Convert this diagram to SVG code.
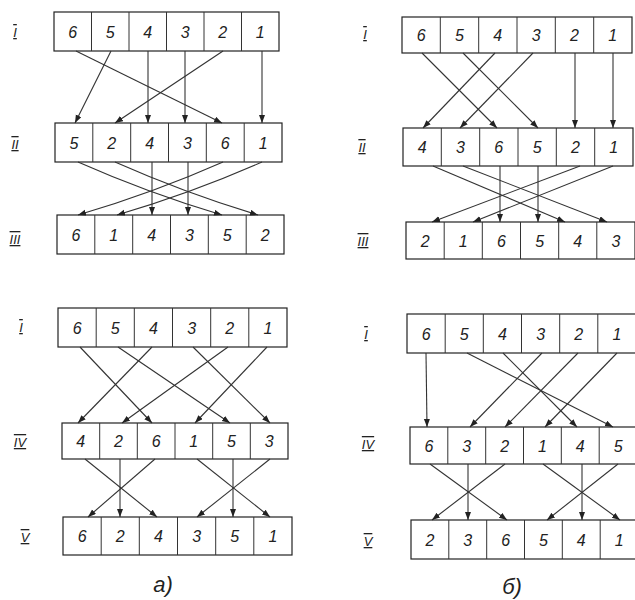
<svg xmlns="http://www.w3.org/2000/svg" width="635" height="600" viewBox="0 0 635 600">
<defs>
<style>
.box{fill:#fff;stroke:#222;stroke-width:1.2}
.div{fill:none;stroke:#333;stroke-width:1}
.d{font-family:"Liberation Sans",Arial,sans-serif;font-style:italic;font-size:16px;fill:#222;text-anchor:middle}
.lbl{font-family:"Liberation Sans",Arial,sans-serif;font-style:italic;font-size:13px;fill:#222;text-anchor:middle;text-decoration:overline underline}
.cap{font-family:"Liberation Sans",Arial,sans-serif;font-style:italic;font-size:22px;fill:#222;text-anchor:middle}
.c{fill:none;stroke:#333;stroke-width:1.1;marker-end:url(#ah)}
</style>
<marker id="ah" markerUnits="userSpaceOnUse" markerWidth="9" markerHeight="7" refX="8" refY="3" orient="auto">
<path d="M0,0 L8,3 L0,6 z" fill="#222"/>
</marker>
</defs>
<rect width="635" height="600" fill="#fff"/>

<g id="labels">
<text class="lbl" x="15" y="37">I</text>
<text class="lbl" x="15" y="149">II</text>
<text class="lbl" x="15" y="244">III</text>
<text class="lbl" x="365" y="39">I</text>
<text class="lbl" x="362" y="152">II</text>
<text class="lbl" x="363" y="246">III</text>
<text class="lbl" x="21" y="332">I</text>
<text class="lbl" x="20" y="447">IV</text>
<text class="lbl" x="25" y="542">V</text>
<text class="lbl" x="366" y="339">I</text>
<text class="lbl" x="368" y="449">IV</text>
<text class="lbl" x="368" y="546">V</text>
<text class="cap" x="163" y="592">а)</text>
<text class="cap" x="512" y="594">б)</text>
</g>

<g id="a-I">
<rect class="box" x="54" y="12" width="225" height="39"/>
<path class="div" d="M91.5,12v39M129,12v39M166.5,12v39M204,12v39M241.5,12v39"/>
<text class="d" x="72.8" y="37.5">6</text><text class="d" x="110.3" y="37.5">5</text><text class="d" x="147.8" y="37.5">4</text><text class="d" x="185.3" y="37.5">3</text><text class="d" x="222.8" y="37.5">2</text><text class="d" x="260.3" y="37.5">1</text>
</g>
<g id="a-II">
<rect class="box" x="55" y="123" width="227" height="39"/>
<path class="div" d="M92.8,123v39M130.7,123v39M168.5,123v39M206.3,123v39M244.2,123v39"/>
<text class="d" x="73.9" y="148.5">5</text><text class="d" x="111.8" y="148.5">2</text><text class="d" x="149.6" y="148.5">4</text><text class="d" x="187.4" y="148.5">3</text><text class="d" x="225.3" y="148.5">6</text><text class="d" x="263.1" y="148.5">1</text>
</g>
<g id="a-III">
<rect class="box" x="57" y="215" width="227" height="39"/>
<path class="div" d="M94.8,215v39M132.7,215v39M170.5,215v39M208.3,215v39M246.2,215v39"/>
<text class="d" x="75.9" y="240.5">6</text><text class="d" x="113.8" y="240.5">1</text><text class="d" x="151.6" y="240.5">4</text><text class="d" x="189.4" y="240.5">3</text><text class="d" x="227.3" y="240.5">5</text><text class="d" x="265.1" y="240.5">2</text>
</g>

<g id="b-I">
<rect class="box" x="402" y="17" width="230" height="36"/>
<path class="div" d="M440.3,17v36M478.7,17v36M517,17v36M555.3,17v36M593.7,17v36"/>
<text class="d" x="421.2" y="41">6</text><text class="d" x="459.5" y="41">5</text><text class="d" x="497.8" y="41">4</text><text class="d" x="536.2" y="41">3</text><text class="d" x="574.5" y="41">2</text><text class="d" x="612.8" y="41">1</text>
</g>
<g id="b-II">
<rect class="box" x="403" y="128" width="230" height="38"/>
<path class="div" d="M441.3,128v38M479.7,128v38M518,128v38M556.3,128v38M594.7,128v38"/>
<text class="d" x="422.2" y="153">4</text><text class="d" x="460.5" y="153">3</text><text class="d" x="498.8" y="153">6</text><text class="d" x="537.2" y="153">5</text><text class="d" x="575.5" y="153">2</text><text class="d" x="613.8" y="153">1</text>
</g>
<g id="b-III">
<rect class="box" x="406" y="222" width="229" height="37"/>
<path class="div" d="M444.2,222v37M482.3,222v37M520.5,222v37M558.7,222v37M596.8,222v37"/>
<text class="d" x="425.1" y="246.5">2</text><text class="d" x="463.3" y="246.5">1</text><text class="d" x="501.4" y="246.5">6</text><text class="d" x="539.6" y="246.5">5</text><text class="d" x="577.8" y="246.5">4</text><text class="d" x="615.9" y="246.5">3</text>
</g>

<g id="a2-I">
<rect class="box" x="58" y="308" width="229" height="39"/>
<path class="div" d="M96.2,308v39M134.3,308v39M172.5,308v39M210.7,308v39M248.8,308v39"/>
<text class="d" x="77.1" y="333.5">6</text><text class="d" x="115.3" y="333.5">5</text><text class="d" x="153.4" y="333.5">4</text><text class="d" x="191.6" y="333.5">3</text><text class="d" x="229.8" y="333.5">2</text><text class="d" x="267.9" y="333.5">1</text>
</g>
<g id="a2-IV">
<rect class="box" x="62" y="423" width="226" height="36"/>
<path class="div" d="M99.7,423v36M137.3,423v36M175,423v36M212.7,423v36M250.3,423v36"/>
<text class="d" x="80.8" y="447">4</text><text class="d" x="118.5" y="447">2</text><text class="d" x="156.2" y="447">6</text><text class="d" x="193.8" y="447">1</text><text class="d" x="231.5" y="447">5</text><text class="d" x="269.2" y="447">3</text>
</g>
<g id="a2-V">
<rect class="box" x="63" y="517" width="229" height="38"/>
<path class="div" d="M101.2,517v38M139.3,517v38M177.5,517v38M215.7,517v38M253.8,517v38"/>
<text class="d" x="82.1" y="542">6</text><text class="d" x="120.3" y="542">2</text><text class="d" x="158.4" y="542">4</text><text class="d" x="196.6" y="542">3</text><text class="d" x="234.8" y="542">5</text><text class="d" x="272.9" y="542">1</text>
</g>

<g id="b2-I">
<rect class="box" x="407" y="314" width="229" height="39"/>
<path class="div" d="M445.2,314v39M483.3,314v39M521.5,314v39M559.7,314v39M597.8,314v39"/>
<text class="d" x="426.1" y="339.5">6</text><text class="d" x="464.3" y="339.5">5</text><text class="d" x="502.4" y="339.5">4</text><text class="d" x="540.6" y="339.5">3</text><text class="d" x="578.8" y="339.5">2</text><text class="d" x="616.9" y="339.5">1</text>
</g>
<g id="b2-IV">
<rect class="box" x="410" y="427" width="227" height="37"/>
<path class="div" d="M447.8,427v37M485.7,427v37M523.5,427v37M561.3,427v37M599.2,427v37"/>
<text class="d" x="428.9" y="451.5">6</text><text class="d" x="466.8" y="451.5">3</text><text class="d" x="504.6" y="451.5">2</text><text class="d" x="542.4" y="451.5">1</text><text class="d" x="580.3" y="451.5">4</text><text class="d" x="618.1" y="451.5">5</text>
</g>
<g id="b2-V">
<rect class="box" x="411" y="520" width="227" height="39"/>
<path class="div" d="M448.8,520v39M486.7,520v39M524.5,520v39M562.3,520v39M600.2,520v39"/>
<text class="d" x="429.9" y="545.5">2</text><text class="d" x="467.8" y="545.5">3</text><text class="d" x="505.6" y="545.5">6</text><text class="d" x="543.4" y="545.5">5</text><text class="d" x="581.3" y="545.5">4</text><text class="d" x="619.1" y="545.5">1</text>
</g>

<g id="connectors">
<path class="c" d="M76,51 L222,123"/>
<path class="c" d="M111,51 L75,123"/>
<path class="c" d="M148,51 L148,123"/>
<path class="c" d="M185,51 L185,123"/>
<path class="c" d="M223,51 L115,123"/>
<path class="c" d="M262,51 L262,123"/>
<path class="c" d="M78,162 Q148,193 222,215"/>
<path class="c" d="M115,162 Q185,193 258,215"/>
<path class="c" d="M152,162 L152,215"/>
<path class="c" d="M188,162 L188,215"/>
<path class="c" d="M223,162 Q153,193 78,215"/>
<path class="c" d="M262,162 Q192,193 117,215"/>
<path class="c" d="M422,53 L497,128"/>
<path class="c" d="M463,53 L538,128"/>
<path class="c" d="M495,53 L423,128"/>
<path class="c" d="M533,53 L460,128"/>
<path class="c" d="M575,53 L575,128"/>
<path class="c" d="M613,53 L613,128"/>
<path class="c" d="M433,166 L565,222"/>
<path class="c" d="M463,166 L607,222"/>
<path class="c" d="M500,166 L500,222"/>
<path class="c" d="M538,166 L538,222"/>
<path class="c" d="M580,166 L432,222"/>
<path class="c" d="M613,166 L473,222"/>
<path class="c" d="M80,347 L152,423"/>
<path class="c" d="M118,347 L230,423"/>
<path class="c" d="M152,347 L78,423"/>
<path class="c" d="M193,347 L270,423"/>
<path class="c" d="M228,347 L122,423"/>
<path class="c" d="M267,347 L195,423"/>
<path class="c" d="M85,459 L157,517"/>
<path class="c" d="M120,459 L120,517"/>
<path class="c" d="M155,459 L88,517"/>
<path class="c" d="M197,459 L270,517"/>
<path class="c" d="M233,459 L233,517"/>
<path class="c" d="M270,459 L197,517"/>
<path class="c" d="M426,353 L427,427"/>
<path class="c" d="M467,353 L613,427"/>
<path class="c" d="M503,353 L577,427"/>
<path class="c" d="M542,353 L470,427"/>
<path class="c" d="M578,353 L505,427"/>
<path class="c" d="M617,353 L545,427"/>
<path class="c" d="M430,464 L507,520"/>
<path class="c" d="M468,464 L468,520"/>
<path class="c" d="M505,464 L432,520"/>
<path class="c" d="M543,464 L620,520"/>
<path class="c" d="M582,464 L582,520"/>
<path class="c" d="M618,464 L547,520"/>
</g>
</svg>
